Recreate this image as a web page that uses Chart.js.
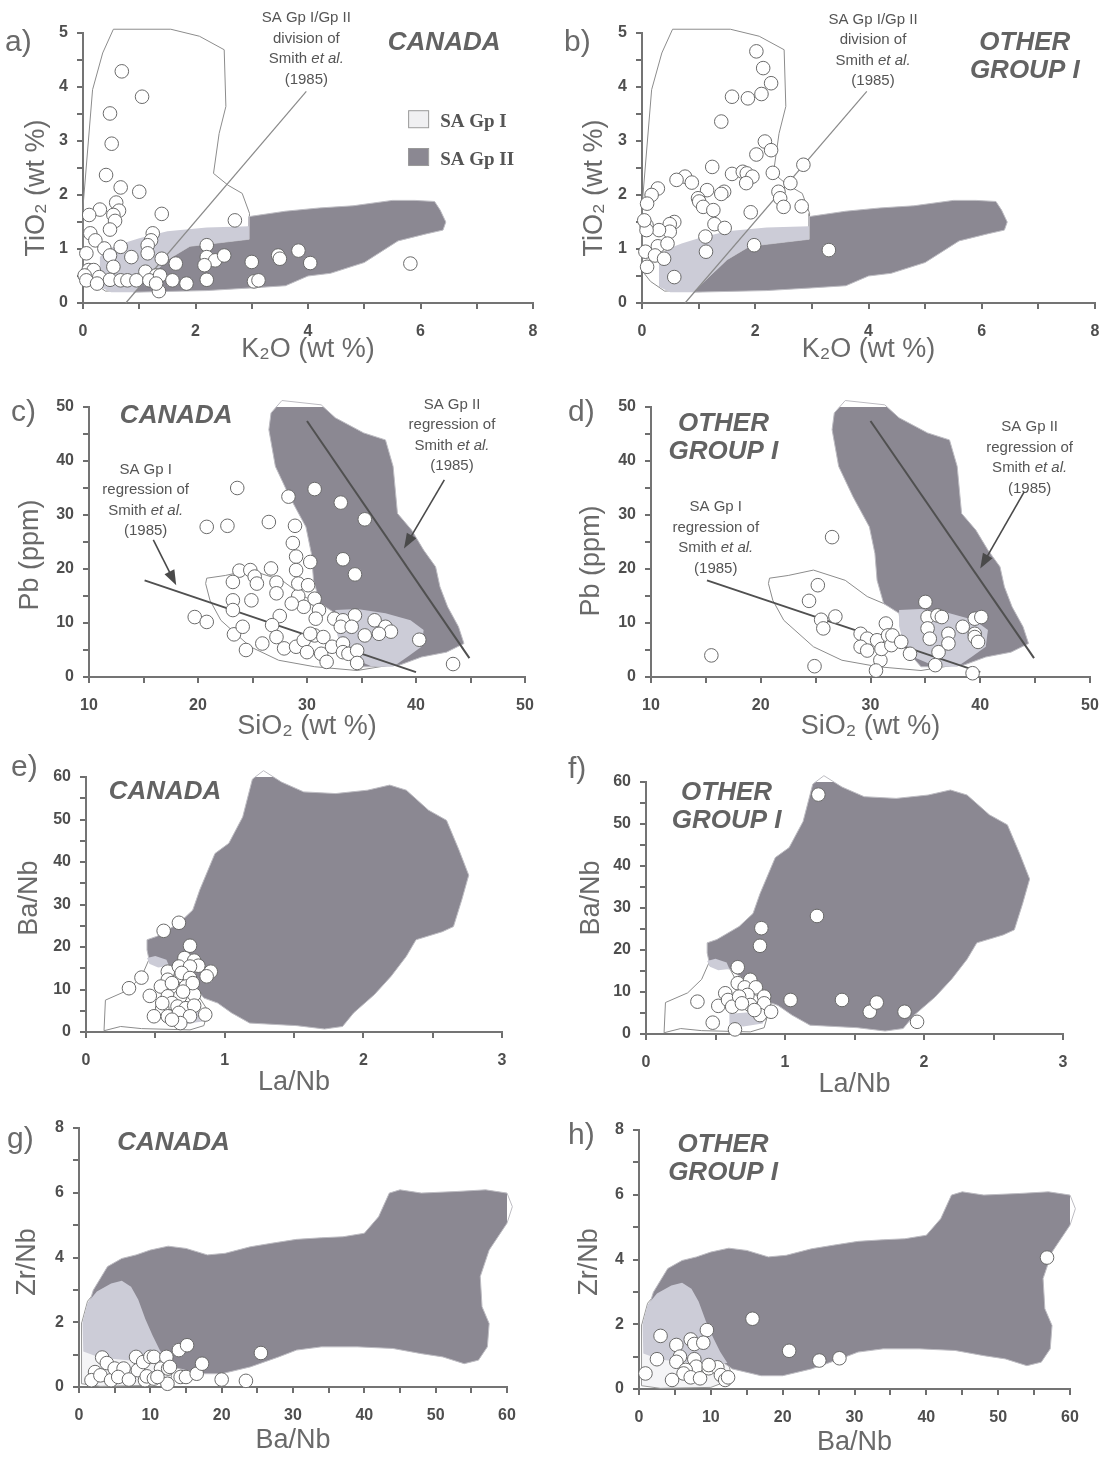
<!DOCTYPE html>
<html>
<head>
<meta charset="utf-8">
<script src="https://cdn.jsdelivr.net/npm/chart.js@4.4.1/dist/chart.umd.min.js"></script>
<style>
  html, body { margin: 0; padding: 0; background: #fff; overflow: hidden; }
  #page { position: relative; width: 1107px; height: 1458px; overflow: hidden; }
  #page canvas { position: absolute; }
</style>
</head>
<body>
<div id="page"></div>
<script>
const FONT = '"Liberation Sans", Arial, Helvetica, sans-serif';
const SERIF = '"Liberation Serif", "Times New Roman", serif';
const FIELD_DARK = 'rgb(139,136,146)';
const FIELD_LIGHT = 'rgb(204,204,215)';
const TITLE_INK = '#6a6a6a';

// =========================
// SA FIELDS (Smith et al. 1985)
// =========================
// TiO2 vs K2O
const gp1FieldTiK = [[0,1.78],[0.17,3.95],[0.35,4.63],[0.54,5.07],[1.56,5.07],[2.07,4.94],[2.51,4.69],[2.54,3.64],[2.42,3.14],[2.32,2.4],[2.58,2.18],[2.83,2.03],[2.96,1.66],[2.95,1.42],[2.4,1.0],[1.6,0.5],[1.0,0.25],[0.4,0.22],[0.15,0.4],[0,0.6],[0,1.78]];
const gp2FieldTiK = [[0.9,0.2],[2.2,0.23],[3.0,0.28],[3.6,0.32],[4.0,0.5],[4.4,0.55],[5.0,0.75],[5.3,0.95],[5.6,1.15],[6.1,1.28],[6.4,1.35],[6.45,1.5],[6.35,1.72],[6.25,1.88],[5.9,1.9],[5.5,1.9],[4.8,1.8],[4.2,1.76],[3.6,1.7],[2.95,1.6],[2.95,1.18],[1.9,1.05],[1.5,0.8],[1.15,0.45],[0.9,0.2]];
const overlapTiK = [[0.3,0.3],[0.3,0.85],[0.45,1.0],[0.7,1.1],[1.0,1.2],[1.5,1.33],[2.2,1.4],[2.95,1.42],[2.95,1.18],[1.9,1.05],[1.5,0.8],[1.15,0.45],[0.9,0.2],[0.5,0.2],[0.3,0.3]];
const divisionTiK = [[0.76,0],[3.97,3.92]];

// Pb vs SiO2
const gp1FieldPbSi = [[20.8,18.3],[22.5,18.8],[24.8,19.8],[27.7,17.9],[29.7,14.9],[32.6,12.4],[35,11.5],[37.9,10.5],[40.5,9.0],[40.5,5.6],[38.5,2.5],[34.6,1.2],[30.7,1.9],[27.4,3.1],[24.8,5.6],[22.1,10.5],[21.1,14.2],[20.7,17.3],[20.8,18.3]];
const gp2FieldPbSi = [[27.7,51.2],[31.3,50.4],[32.6,48.0],[35.2,45.2],[37.2,43.9],[37.9,39.0],[38.3,30.3],[39.6,27.2],[40.7,23.5],[41.8,20.4],[42.2,16.7],[42.9,13.0],[43.9,9.3],[44.4,6.2],[42.8,4.6],[40.5,3.7],[38.5,2.2],[36.2,1.9],[34.6,1.9],[33.0,5.6],[32.6,11.8],[31.2,13.6],[30.6,17.9],[30.4,22.9],[29.9,27.8],[28.4,33.4],[27.1,39.0],[26.5,45.8],[26.7,48.9],[27.7,51.2]];
const overlapPbSi = [[32.6,12.4],[34.6,12.6],[37.2,11.8],[39.5,10.5],[40.7,8.7],[40.5,5.6],[39.2,3.7],[37.9,1.9],[35.9,2.0],[33.9,3.7],[33.0,6.2],[32.6,9.5],[32.6,12.4]];
const gp1RegPbSi = [[15.1,17.9],[40,0.9]];
const gp2RegPbSi = [[30,47.4],[44.9,3.5]];

// Ba/Nb vs La/Nb
const gp1FieldBaLa = [[0.13,0.3],[0.14,7.5],[0.3,9.8],[0.4,13],[0.46,17.5],[0.58,17],[0.66,12],[0.8,9],[0.88,5],[0.85,1.5],[0.75,0.5],[0.4,0.8],[0.25,1.3],[0.13,0.3]];
const gp2FieldBaLa = [[0.44,19.3],[0.44,21.7],[0.51,22.5],[0.67,25.6],[0.77,28.7],[0.82,33.4],[0.93,42.0],[1.03,44.4],[1.13,50.6],[1.2,59.5],[1.28,61.5],[1.41,58.8],[1.57,56.5],[1.8,56.1],[2.03,56.9],[2.19,58.1],[2.31,56.9],[2.47,52.2],[2.6,49.8],[2.69,42.8],[2.76,36.9],[2.71,31.1],[2.65,24.8],[2.57,23.6],[2.38,21.7],[2.31,17.8],[2.2,13.1],[2.08,8.8],[1.93,4.5],[1.85,1.3],[1.72,0.7],[1.52,1.5],[1.18,2.1],[1.05,4.5],[0.95,6.8],[0.85,8.0],[0.75,12],[0.6,15.5],[0.46,16.2],[0.44,19.3]];
const overlapBaLaUpper = [[0.44,17.4],[0.5,17.9],[0.58,17.0],[0.6,15.5],[0.52,15.2],[0.46,16.0],[0.44,17.4]];
const overlapBaLaLower = [[0.6,4.8],[0.75,5.2],[0.86,4.5],[0.84,2.5],[0.7,1.8],[0.6,2.2],[0.6,4.8]];

// Zr/Nb vs Ba/Nb
const gp1FieldZrBa = [[0.4,2.0],[1.2,2.65],[2.5,3.0],[4.5,3.25],[6,3.33],[7.4,3.15],[8.4,2.75],[9.4,2.1],[10.4,1.6],[11.4,1.15],[12.5,0.75],[13,0.3],[10,0.05],[3,0.02],[0.4,0.1],[0.3,1.0],[0.4,2.0]];
const gp2FieldZrBa = [[0.75,2.1],[2,2.99],[4,3.72],[6,3.97],[8,4.08],[10,4.23],[12.5,4.35],[15,4.28],[18,4.08],[20.5,4.13],[24,4.33],[27,4.44],[30.5,4.56],[34,4.61],[37,4.64],[40,4.75],[42,5.26],[43.5,5.99],[45,6.09],[48,5.99],[53,6.04],[57,6.09],[60,5.99],[60.75,5.57],[60,5.06],[57.5,4.23],[56.25,3.41],[56.5,2.48],[57.5,1.96],[57.25,1.24],[56,0.83],[54,0.72],[51,0.93],[48,1.03],[44,1.19],[39,1.24],[34,1.24],[30.5,1.14],[28,0.93],[24,0.62],[20,0.41],[17,0.41],[13,0.62],[11,0.93],[9,1.5],[6,2.0],[3,1.8],[0.75,2.1]];
const overlapZrBa = [[0.5,2.0],[1.2,2.6],[2.5,2.95],[4.5,3.2],[6,3.28],[7.3,3.1],[8.3,2.7],[9.3,2.1],[10.3,1.6],[11.3,1.15],[12.3,0.8],[8,0.8],[3,0.9],[0.6,1.1],[0.5,2.0]];

// =========================
// SAMPLES
// =========================
const canadaTiK = [[0.69,4.29],[1.05,3.82],[0.48,3.51],[0.51,2.95],[0.41,2.37],[0.67,2.14],[1.0,2.06],[0.59,1.86],[0.64,1.71],[0.3,1.73],[0.11,1.63],[1.4,1.65],[0.54,1.63],[0.57,1.52],[0.48,1.36],[2.7,1.53],[0.13,1.29],[1.24,1.29],[0.22,1.16],[1.21,1.16],[1.15,1.07],[0.67,1.04],[0.38,1.01],[2.2,1.07],[0.06,0.92],[0.48,0.88],[0.86,0.85],[1.15,0.92],[1.4,0.82],[2.2,0.85],[2.35,0.79],[2.51,0.88],[2.16,0.7],[1.65,0.73],[3.0,0.76],[3.47,0.88],[3.5,0.82],[3.83,0.97],[4.04,0.74],[5.82,0.73],[0.1,0.61],[0.19,0.61],[0.54,0.67],[1.11,0.58],[1.3,0.51],[0.03,0.51],[0.29,0.48],[0.06,0.42],[0.48,0.43],[0.67,0.42],[0.79,0.42],[0.95,0.42],[1.18,0.42],[1.37,0.51],[1.59,0.42],[1.84,0.36],[2.2,0.43],[3.04,0.4],[3.12,0.42],[1.35,0.22],[1.3,0.36],[0.25,0.36]];
const otherTiK = [[2.02,4.66],[2.14,4.35],[2.28,4.07],[1.59,3.82],[1.87,3.79],[2.11,3.87],[1.4,3.36],[2.17,2.99],[2.28,2.83],[2.02,2.75],[1.24,2.52],[2.85,2.56],[0.76,2.34],[0.61,2.28],[1.59,2.39],[1.78,2.43],[1.85,2.4],[1.95,2.34],[1.84,2.22],[2.31,2.41],[0.88,2.23],[0.28,2.12],[0.17,2.0],[0.09,1.84],[2.62,2.22],[1.45,2.06],[1.4,2.02],[1.15,2.09],[0.99,1.94],[1.01,1.88],[1.08,1.78],[1.26,1.72],[2.41,2.06],[2.44,1.94],[2.5,1.78],[2.82,1.79],[1.92,1.68],[1.28,1.46],[1.46,1.39],[0.57,1.5],[0.49,1.46],[0.49,1.32],[0.3,1.35],[0.08,1.44],[0.08,1.35],[0.04,1.53],[0.28,1.05],[0.45,1.1],[0.06,0.95],[0.23,0.88],[0.39,0.82],[0.09,0.67],[1.12,1.23],[1.13,0.95],[0.57,0.48],[1.98,1.07],[3.3,0.98]];
const canadaPbSi = [[23.6,35.0],[28.3,33.4],[30.7,34.8],[33.1,32.3],[35.3,29.2],[20.8,27.8],[22.7,28.0],[26.5,28.7],[28.9,28.0],[28.7,24.8],[29.0,22.3],[29.0,19.8],[30.3,21.3],[33.3,21.8],[34.4,19.0],[23.8,19.7],[24.8,19.8],[25.2,18.6],[25.4,17.3],[23.2,17.6],[26.7,20.1],[27.2,17.5],[27.2,15.5],[29.2,15.0],[29.2,17.3],[30.1,17.0],[30.7,14.5],[29.7,13.0],[28.6,13.6],[24.9,14.2],[23.2,14.2],[23.2,12.4],[19.7,11.1],[20.8,10.2],[31.1,12.4],[30.8,10.8],[32.5,10.8],[33.3,10.5],[34.4,11.4],[36.2,10.5],[37.2,9.3],[37.7,8.4],[36.6,8.0],[35.3,7.7],[33.1,9.3],[34.1,9.3],[27.5,11.3],[26.8,9.6],[23.3,7.9],[24.1,9.3],[25.9,6.2],[27.2,7.4],[27.9,5.3],[29.0,5.6],[29.7,6.8],[30.0,4.6],[30.7,7.7],[31.5,7.4],[31.3,4.3],[31.8,2.8],[32.3,5.6],[33.3,6.2],[33.3,4.6],[33.8,4.3],[34.6,4.9],[34.6,2.6],[40.3,6.9],[43.4,2.4],[24.4,5.0],[30.3,8.0]];
const otherPbSi = [[26.5,25.9],[25.2,17.0],[24.4,14.1],[26.8,11.2],[25.5,10.6],[25.7,9.0],[15.5,4.0],[24.9,2.0],[29.1,8.0],[29.7,7.1],[29.1,5.6],[29.7,4.9],[30.6,6.8],[31.4,9.9],[31.6,7.7],[30.9,3.1],[30.5,1.2],[31.0,5.2],[31.9,5.9],[32.0,7.7],[32.8,6.5],[33.6,4.3],[35.0,13.9],[35.2,11.1],[36.1,11.4],[36.5,11.1],[35.2,9.0],[35.4,7.1],[36.2,4.6],[35.9,2.2],[37.1,8.0],[37.1,6.2],[38.4,9.3],[39.5,10.8],[40.1,11.1],[39.5,8.0],[39.5,7.4],[39.8,6.5],[39.3,0.7]];
const canadaBaLa = [[0.67,25.7],[0.56,23.8],[0.75,20.3],[0.71,17.4],[0.78,16.8],[0.81,15.6],[0.9,14.2],[0.87,13.1],[0.59,14.2],[0.67,15.4],[0.75,15.4],[0.69,13.9],[0.75,12.7],[0.59,12.3],[0.4,12.8],[0.31,10.3],[0.54,10.7],[0.64,10.3],[0.72,10.7],[0.59,8.4],[0.46,8.5],[0.68,8.4],[0.78,8.8],[0.62,6.8],[0.55,5.6],[0.66,6.0],[0.72,5.6],[0.78,6.2],[0.49,3.7],[0.59,3.7],[0.67,4.5],[0.75,3.7],[0.86,4.1],[0.68,2.1],[0.62,2.9],[0.77,11.5],[0.55,6.8],[0.7,9.5],[0.62,11.5]];
const otherBaLa = [[1.24,57.0],[1.23,28.1],[0.83,25.2],[0.82,21.0],[0.66,15.9],[0.37,7.7],[0.48,2.7],[0.64,1.1],[0.52,6.7],[0.57,9.7],[0.59,8.1],[0.62,6.5],[0.66,12.1],[0.75,12.9],[0.71,11.1],[0.79,11.1],[0.73,9.3],[0.67,8.9],[0.75,6.9],[0.85,8.9],[0.85,7.3],[0.82,4.5],[0.9,5.3],[1.04,8.1],[1.41,8.1],[1.61,5.3],[1.66,7.5],[1.86,5.3],[1.95,2.9],[0.69,7.3],[0.78,5.7]];
const canadaZrBa = [[3.25,0.91],[3.9,0.74],[2.25,0.46],[1.75,0.21],[3.0,0.36],[4.5,0.21],[5.0,0.57],[6.25,0.57],[5.5,0.31],[7.0,0.23],[8.0,0.93],[8.25,0.52],[9.0,0.77],[9.25,0.21],[9.5,0.33],[10.0,0.93],[10.5,0.93],[10.5,0.26],[11.5,0.57],[12.25,0.93],[12.5,0.57],[12.75,0.62],[12.4,0.1],[14.0,1.14],[15.15,1.29],[14.25,0.31],[15.0,0.31],[16.5,0.41],[17.25,0.72],[20.0,0.23],[23.4,0.19],[25.5,1.05],[11.0,0.31]];
const otherZrBa = [[56.8,4.06],[15.8,2.17],[20.9,1.18],[25.1,0.88],[27.9,0.95],[9.45,1.82],[3.0,1.64],[5.2,1.36],[7.2,1.53],[7.7,1.39],[8.95,1.43],[2.5,0.92],[5.7,1.0],[5.2,0.84],[7.7,0.92],[7.96,0.69],[6.5,0.59],[6.2,0.48],[7.2,0.36],[4.6,0.28],[0.9,0.48],[8.5,0.33],[9.7,0.64],[10.9,0.67],[11.4,0.43],[12.0,0.28],[12.4,0.36],[9.7,0.74]];

// tick labels
const k2oLabels = [0, 2, 4, 6, 8];
const tio2Labels = [0, 1, 2, 3, 4, 5];
const sio2Labels = [10, 20, 30, 40, 50];
const pbLabels = [0, 10, 20, 30, 40, 50];
const laNbLabels = [0, 1, 2, 3];
const baNbYLabels = [0, 10, 20, 30, 40, 50, 60];
const baNbXLabels = [0, 10, 20, 30, 40, 50, 60];
const zrNbLabels = [0, 2, 4, 6, 8];

// =========================
// HELPERS
// =========================
const xy = (arr) => arr.map(([x, y]) => ({ x, y }));

function field(arr, fill, border, order) {
  return {
    type: 'line', data: xy(arr), order, clip: false,
    backgroundColor: fill || 'transparent', borderColor: border, borderWidth: 1,
    fill: fill ? 'shape' : false, pointRadius: 0, tension: 0
  };
}

function trend(arr, color, width) {
  return {
    type: 'line', data: xy(arr), order: 1, clip: false,
    borderColor: color, borderWidth: width, fill: false, pointRadius: 0, tension: 0
  };
}

function samples(arr) {
  return {
    type: 'scatter', data: xy(arr), order: 0, clip: false,
    pointRadius: 6.8, pointBackgroundColor: '#ffffff',
    pointBorderColor: '#6a6a6a', pointBorderWidth: 1
  };
}

// x axis keeps its own title; y titles are placed by the notes plugin
function axis(min, max, step, labels, title, titlePad, isX) {
  return {
    type: 'linear', min, max,
    ticks: {
      stepSize: step, autoSkip: false, maxRotation: 0,
      color: '#4e4e4e', font: { family: FONT, size: 16, weight: 'bold' },
      padding: isX ? 13 : 9,
      callback: (v) => labels.includes(Math.round(v * 100) / 100) ? String(v) : ''
    },
    grid: { drawOnChartArea: false, drawTicks: true, tickLength: 6, color: '#6e6e6e', lineWidth: 2 },
    border: { color: '#747474', width: 2 },
    title: {
      display: isX, text: title, color: TITLE_INK,
      font: { family: FONT, size: 27 },
      padding: { top: 0, bottom: titlePad }
    },
    afterFit: (s) => { if (isX) s.height = 70; else s.width = 85; }
  };
}

function textBlock(ctx, lines, cx, cy) {
  const fontOf = (it) => (it ? 'italic ' : '') + '15px ' + FONT;
  ctx.fillStyle = '#555';
  ctx.textAlign = 'left';
  lines.forEach((line, i) => {
    // parts between underscores are italic
    const parts = line.split('_').map((s, k) => ({ s, it: k % 2 === 1 }));
    let w = 0;
    parts.forEach((pt) => { ctx.font = fontOf(pt.it); pt.w = ctx.measureText(pt.s).width; w += pt.w; });
    let xx = cx - w / 2;
    parts.forEach((pt) => { ctx.font = fontOf(pt.it); ctx.fillText(pt.s, xx, cy + i * 20.5); xx += pt.w; });
  });
}

function arrow(ctx, x1, y1, x2, y2) {
  const a = Math.atan2(y2 - y1, x2 - x1);
  const c = Math.cos(a), s = Math.sin(a);
  ctx.strokeStyle = '#4a4a4a';
  ctx.fillStyle = '#4a4a4a';
  ctx.lineWidth = 1.6;
  ctx.beginPath();
  ctx.moveTo(x1, y1);
  ctx.lineTo(x2 - 10 * c, y2 - 10 * s);
  ctx.stroke();
  ctx.beginPath();
  ctx.moveTo(x2, y2);
  ctx.lineTo(x2 - 15 * c + 5.5 * s, y2 - 15 * s - 5.5 * c);
  ctx.lineTo(x2 - 15 * c - 5.5 * s, y2 - 15 * s + 5.5 * c);
  ctx.closePath();
  ctx.fill();
}

function legendKey(ctx, x, y) {
  const keys = [
    { top: 3.57, mid: 3.35, fill: '#f0f0f2', text: 'SA Gp I' },
    { top: 2.87, mid: 2.65, fill: FIELD_DARK, text: 'SA Gp II' }
  ];
  const bx = x.getPixelForValue(5.78), tx = x.getPixelForValue(6.35);
  keys.forEach((k) => {
    ctx.fillStyle = k.fill;
    ctx.strokeStyle = '#9a9a9a';
    ctx.lineWidth = 1;
    ctx.fillRect(bx, y.getPixelForValue(k.top), 20, 17);
    ctx.strokeRect(bx + 0.5, y.getPixelForValue(k.top) + 0.5, 20, 17);
    ctx.fillStyle = '#555';
    ctx.font = 'bold 19px ' + SERIF;
    ctx.textAlign = 'left';
    ctx.fillText(k.text, tx, y.getPixelForValue(k.mid));
  });
}

function notes(p, left, top) {
  return {
    id: 'notes',
    afterDatasetsDraw(chart) {
      const { ctx } = chart;
      const { x, y } = chart.scales;
      ctx.save();
      ctx.textBaseline = 'middle';

      // panel letter
      ctx.fillStyle = TITLE_INK;
      ctx.font = '30px ' + FONT;
      ctx.textAlign = 'left';
      ctx.fillText(p.letter, p.letterAt[0] - left, p.letterAt[1] - top);

      // y axis title
      ctx.save();
      ctx.translate(chart.chartArea.left - p.yTitle.dx, y.getPixelForValue(p.yTitle.at));
      ctx.rotate(-Math.PI / 2);
      ctx.textAlign = 'center';
      ctx.font = '27px ' + FONT;
      ctx.fillText(p.yTitle.text, 0, 0);
      ctx.restore();

      // sample group
      ctx.fillStyle = '#636363';
      ctx.font = 'italic bold 26px ' + FONT;
      ctx.textAlign = 'center';
      p.group.forEach((s, i) =>
        ctx.fillText(s, x.getPixelForValue(p.groupAt[0]), y.getPixelForValue(p.groupAt[1]) + i * 28));

      (p.blocks || []).forEach((b) =>
        textBlock(ctx, b.lines, x.getPixelForValue(b.at[0]), y.getPixelForValue(b.at[1])));
      (p.arrows || []).forEach((a) =>
        arrow(ctx, x.getPixelForValue(a[0]), y.getPixelForValue(a[1]), x.getPixelForValue(a[2]), y.getPixelForValue(a[3])));
      if (p.legend) legendKey(ctx, x, y);
      ctx.restore();
    }
  };
}

// =========================
// PANELS
// =========================
const divisionText = ['SA Gp I/Gp II', 'division of', 'Smith _et al._', '(1985)'];
const gp1RegText = ['SA Gp I', 'regression of', 'Smith _et al._', '(1985)'];
const gp2RegText = ['SA Gp II', 'regression of', 'Smith _et al._', '(1985)'];
const CANADA = ['CANADA'];
const OTHER = ['OTHER', 'GROUP I'];

function tiK(pts) {
  return [
    samples(pts),
    trend(divisionTiK, '#8a8a8a', 1.2),
    field(overlapTiK, FIELD_LIGHT, 'rgba(0,0,0,0)', 2),
    field(gp2FieldTiK, FIELD_DARK, '#bdbcc2', 3),
    field(gp1FieldTiK, null, '#8c8c8c', 4)
  ];
}
function pbSi(pts) {
  return [
    samples(pts),
    trend(gp1RegPbSi, '#505050', 2),
    trend(gp2RegPbSi, '#505050', 2),
    field(overlapPbSi, FIELD_LIGHT, 'rgba(0,0,0,0)', 2),
    field(gp2FieldPbSi, FIELD_DARK, '#bdbcc2', 3),
    field(gp1FieldPbSi, null, '#8c8c8c', 4)
  ];
}
function baLa(pts) {
  return [
    samples(pts),
    field(overlapBaLaUpper, FIELD_LIGHT, 'rgba(0,0,0,0)', 2),
    field(overlapBaLaLower, FIELD_LIGHT, 'rgba(0,0,0,0)', 2),
    field(gp2FieldBaLa, FIELD_DARK, '#bdbcc2', 3),
    field(gp1FieldBaLa, null, '#8c8c8c', 4)
  ];
}
function zrBa(pts) {
  return [
    samples(pts),
    field(overlapZrBa, FIELD_LIGHT, 'rgba(0,0,0,0)', 2),
    field(gp2FieldZrBa, FIELD_DARK, '#bdbcc2', 3),
    field(gp1FieldZrBa, '#f4f4f6', '#9a9a9a', 4)
  ];
}

const panels = [
  { letter: 'a)', letterAt: [5, 43], area: [83, 33, 533, 303],
    x: axis(0, 8, 1, k2oLabels, 'K\u2082O (wt %)', 7, true), y: axis(0, 5, 0.5, tio2Labels, '', 0, false),
    yTitle: { text: 'TiO\u2082 (wt %)', at: 2.13, dx: 46 },
    datasets: tiK(canadaTiK), group: CANADA, groupAt: [6.42, 4.81], legend: true,
    blocks: [{ lines: divisionText, at: [3.97, 5.28] }] },
  { letter: 'b)', letterAt: [564, 43], area: [642, 33, 1095, 303],
    x: axis(0, 8, 1, k2oLabels, 'K\u2082O (wt %)', 7, true), y: axis(0, 5, 0.5, tio2Labels, '', 0, false),
    yTitle: { text: 'TiO\u2082 (wt %)', at: 2.13, dx: 47 },
    datasets: tiK(otherTiK), group: OTHER, groupAt: [6.76, 4.81],
    blocks: [{ lines: divisionText, at: [4.08, 5.25] }] },
  { letter: 'c)', letterAt: [11, 413], area: [89, 407, 525, 677],
    x: axis(10, 50, 5, sio2Labels, 'SiO\u2082 (wt %)', 4, true), y: axis(0, 50, 5, pbLabels, '', 0, false),
    yTitle: { text: 'Pb (ppm)', at: 22.6, dx: 58 },
    datasets: pbSi(canadaPbSi), group: CANADA, groupAt: [18.0, 48.3],
    blocks: [{ lines: gp1RegText, at: [15.2, 38.4] }, { lines: gp2RegText, at: [43.3, 50.4] }],
    arrows: [[15.9, 25.4, 18.0, 17.0], [42.6, 36.5, 38.9, 23.8]] },
  { letter: 'd)', letterAt: [568, 413], area: [651, 407, 1090, 677],
    x: axis(10, 50, 5, sio2Labels, 'SiO\u2082 (wt %)', 4, true), y: axis(0, 50, 5, pbLabels, '', 0, false),
    yTitle: { text: 'Pb (ppm)', at: 21.5, dx: 59 },
    datasets: pbSi(otherPbSi), group: OTHER, groupAt: [16.6, 46.9],
    blocks: [{ lines: gp1RegText, at: [15.9, 31.5] }, { lines: gp2RegText, at: [44.5, 46.3] }],
    arrows: [[44.0, 34.3, 40.0, 20.1]] },
  { letter: 'e)', letterAt: [11, 768], area: [86, 777, 502, 1032],
    x: axis(0, 3, 0.5, laNbLabels, 'La/Nb', 3, true), y: axis(0, 60, 5, baNbYLabels, '', 0, false),
    yTitle: { text: 'Ba/Nb', at: 31.5, dx: 56 },
    datasets: baLa(canadaBaLa), group: CANADA, groupAt: [0.57, 56.5] },
  { letter: 'f)', letterAt: [568, 770], area: [646, 782, 1063, 1034],
    x: axis(0, 3, 0.5, laNbLabels, 'La/Nb', 3, true), y: axis(0, 60, 5, baNbYLabels, '', 0, false),
    yTitle: { text: 'Ba/Nb', at: 32.4, dx: 54 },
    datasets: baLa(otherBaLa), group: OTHER, groupAt: [0.58, 57.4] },
  { letter: 'g)', letterAt: [7, 1140], area: [79, 1128, 507, 1387],
    x: axis(0, 60, 5, baNbXLabels, 'Ba/Nb', 0, true), y: axis(0, 8, 1, zrNbLabels, '', 0, false),
    yTitle: { text: 'Zr/Nb', at: 3.86, dx: 51 },
    datasets: zrBa(canadaZrBa), group: CANADA, groupAt: [13.25, 7.53] },
  { letter: 'h)', letterAt: [568, 1136], area: [639, 1130, 1070, 1389],
    x: axis(0, 60, 5, baNbXLabels, 'Ba/Nb', 0, true), y: axis(0, 8, 1, zrNbLabels, '', 0, false),
    yTitle: { text: 'Zr/Nb', at: 3.92, dx: 49 },
    datasets: zrBa(otherZrBa), group: OTHER, groupAt: [11.7, 7.54] }
];

const page = document.getElementById('page');

panels.forEach((p) => {
  const [l, t, r, b] = p.area;
  const left = l - 85, top = t - 35;
  const cv = document.createElement('canvas');
  cv.width = r - l + 120;
  cv.height = b - t + 105;
  cv.style.left = left + 'px';
  cv.style.top = top + 'px';
  page.appendChild(cv);

  new Chart(cv, {
    type: 'scatter',
    data: { datasets: p.datasets },
    options: {
      responsive: false,
      animation: false,
      events: [],
      layout: { padding: { left: 0, top: 35, right: 35, bottom: 0 } },
      plugins: { legend: { display: false }, tooltip: { enabled: false } },
      scales: { x: p.x, y: p.y }
    },
    plugins: [notes(p, left, top)]
  });
});
</script>
</body>
</html>
